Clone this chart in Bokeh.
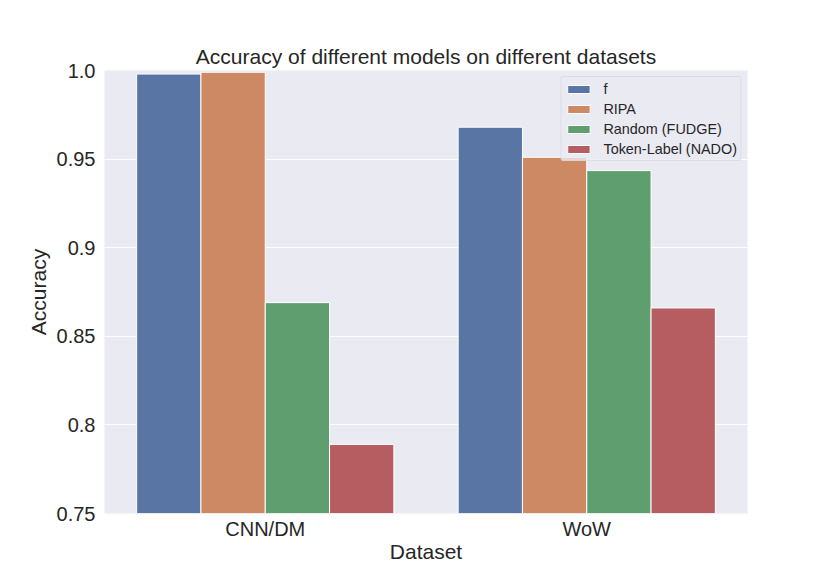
from bokeh.plotting import figure
from bokeh.models import ColumnDataSource, FixedTicker, Range1d, Legend, LegendItem
from bokeh.transform import dodge
from bokeh.embed import file_html
from bokeh.resources import INLINE

categories = ["CNN/DM", "WoW"]
series_names = ["f", "RIPA", "Random (FUDGE)", "Token-Label (NADO)"]
f_vals = [0.998, 0.968]
ripa_vals = [0.999, 0.951]
random_vals = [0.869, 0.9435]
token_vals = [0.789, 0.866]
colors = ["#5975a4", "#cc8963", "#5f9e6e", "#b55d60"]
y_ticks = [0.75, 0.8, 0.85, 0.9, 0.95, 1.0]
y_tick_labels = ["0.75", "0.8", "0.85", "0.9", "0.95", "1.0"]

FONT = "Liberation Sans"

src = ColumnDataSource(dict(
    x=list(range(len(categories))),
    f=f_vals, ripa=ripa_vals, rnd=random_vals, tok=token_vals,
))

p = figure(
    output_backend="svg", toolbar_location=None,
    frame_width=643, frame_height=443,
    x_range=Range1d(-0.5, 1.5), y_range=Range1d(0.75, 1.0),
    title="Accuracy of different models on different datasets",
    min_border_left=104, min_border_top=70, min_border_right=83, min_border_bottom=62,
)
p.background_fill_color = "#eaeaf2"
p.border_fill_color = "white"
p.outline_line_color = None

cols = ["f", "ripa", "rnd", "tok"]
offsets = [-0.3, -0.1, 0.1, 0.3]
renderers = []
for c, off, col in zip(cols, offsets, colors):
    r = p.vbar(x=dodge("x", off, range=p.x_range), top=c, bottom=0.75, width=0.2,
               source=src, fill_color=col, line_color="white", line_width=1)
    renderers.append(r)

legend = Legend(items=[LegendItem(label=n, renderers=[r]) for n, r in zip(series_names, renderers)],
                location="top_right")
legend.label_text_font = FONT
legend.label_text_font_size = "14.4px"
legend.label_text_color = "#262626"
legend.glyph_width = 28
legend.glyph_height = 10
legend.label_height = 17
legend.label_standoff = 11
legend.spacing = 3
legend.padding = 3
legend.margin = 6
legend.background_fill_color = "#eaeaf2"
legend.background_fill_alpha = 0.8
legend.border_line_color = "#d0d0d8"
legend.border_line_width = 1
legend.border_radius = 3
p.add_layout(legend)

p.title.text_font = FONT
p.title.text_font_size = "21px"
p.title.text_font_style = "normal"
p.title.align = "center"
p.title.text_color = "#262626"
p.title.standoff = 5

p.xaxis.ticker = FixedTicker(ticks=[0, 1])
p.xaxis.major_label_overrides = {0: categories[0], 1: categories[1]}
p.yaxis.ticker = FixedTicker(ticks=y_ticks)
p.yaxis.major_label_overrides = {t: l for t, l in zip(y_ticks, y_tick_labels)}
p.xaxis.axis_label = "Dataset"
p.yaxis.axis_label = "Accuracy"

for ax in (p.xaxis, p.yaxis):
    ax.axis_line_color = None
    ax.major_tick_line_color = None
    ax.minor_tick_line_color = None
    ax.major_tick_out = 0
    ax.major_tick_in = 0
    ax.major_label_text_font = FONT
    ax.major_label_text_font_size = "20px"
    ax.major_label_text_color = "#262626"
    ax.axis_label_text_font = FONT
    ax.axis_label_text_font_size = "21px"
    ax.axis_label_text_font_style = "normal"
    ax.axis_label_text_color = "#262626"
p.xaxis.major_label_standoff = 4
p.yaxis.major_label_standoff = 9
p.xaxis.axis_label_standoff = -3
p.yaxis.axis_label_standoff = 4

p.xgrid.grid_line_color = None
p.ygrid.grid_line_color = "white"
p.ygrid.grid_line_width = 1.2

open("out.html", "w").write(file_html(p, INLINE))
